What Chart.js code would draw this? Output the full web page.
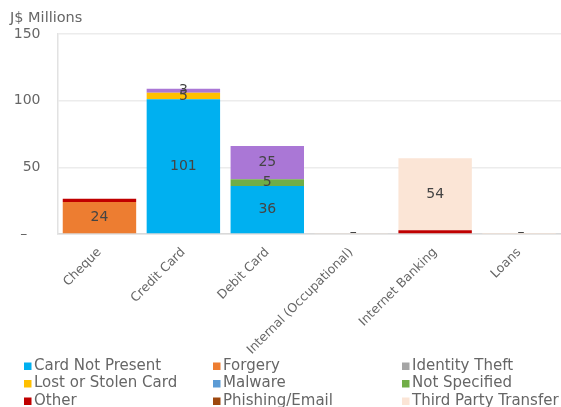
<!DOCTYPE html>
<html>
<head>
<meta charset="utf-8">
<script src="https://cdn.jsdelivr.net/npm/chart.js@4/dist/chart.umd.min.js"></script>
<style>
  html, body { margin: 0; padding: 0; background: #fff; }
  #wrap { width: 561px; height: 407px; position: relative; }
</style>
</head>
<body>
<div id="wrap"><canvas id="c" width="561" height="407"></canvas></div>
<script>
// Fraud losses by channel, J$ millions
const categories = ['Cheque', 'Credit Card', 'Debit Card', 'Internal (Occupational)', 'Internet Banking', 'Loans'];

const cardNotPresent   = [0, 101, 36, 0, 0, 0];
const forgery          = [24, 0, 0, 0, 0, 0];
const identityTheft    = [0, 0, 0, 0, 0, 0];
const lostOrStolenCard = [0, 5, 0, 0, 0, 0];
const malware          = [0, 0, 0, 0, 0.6, 0];
const notSpecified     = [0, 0, 5, 0, 0, 0];
const other            = [2.4, 0, 0, 0, 2.3, 0];
const phishingEmail    = [0, 0, 0, 0, 0, 0];
const thirdParty       = [0, 0, 0, 0.3, 54, 0.2];
const skimming         = [0, 3, 25, 0, 0, 0];

const yTicks = [0, 50, 100, 150];
const yTitle = 'J$ Millions';

const FONT = '"DejaVu Sans", Verdana, sans-serif';
const AXIS_GRAY = '#666666';

const series = [
  { label: 'Card Not Present',    data: cardNotPresent,   color: '#00b0f0', labelled: true,  inLegend: true },
  { label: 'Forgery',             data: forgery,          color: '#ed7d31', labelled: true,  inLegend: true },
  { label: 'Identity Theft',      data: identityTheft,    color: '#a5a5a5', labelled: true,  inLegend: true },
  { label: 'Lost or Stolen Card', data: lostOrStolenCard, color: '#ffc000', labelled: true,  inLegend: true },
  { label: 'Malware',             data: malware,          color: '#5b9bd5', labelled: false, inLegend: true },
  { label: 'Not Specified',       data: notSpecified,     color: '#70ad47', labelled: true,  inLegend: true },
  { label: 'Other',               data: other,            color: '#c00000', labelled: false, inLegend: true },
  { label: 'Phishing/Email',      data: phishingEmail,    color: '#9e480e', labelled: false, inLegend: true },
  { label: 'Third Party Transfer',data: thirdParty,       color: '#fbe5d6', labelled: true,  inLegend: true },
  { label: 'Skimming',            data: skimming,         color: '#aa77d6', labelled: true,  inLegend: false }
];

// value labels centred in each segment
const segmentLabels = {
  id: 'segmentLabels',
  afterDatasetsDraw(chart) {
    const ctx = chart.ctx;
    ctx.save();
    ctx.font = '14px ' + FONT;
    ctx.fillStyle = '#444444';
    ctx.textAlign = 'center';
    ctx.textBaseline = 'middle';
    chart.data.datasets.forEach((ds, i) => {
      if (!ds.labelled) return;
      const meta = chart.getDatasetMeta(i);
      meta.data.forEach((bar, j) => {
        const v = ds.data[j];
        if (!v) return;
        const r = Math.round(v);
        const txt = r === 0 ? '–' : String(r);
        const y = r === 0 ? bar.base - 1 : (bar.y + bar.base) / 2;
        ctx.fillText(txt, bar.x + (r === 0 ? 2 : 0), y);
      });
    });
    ctx.restore();
  }
};

// unit caption above the value axis
const unitCaption = {
  id: 'unitCaption',
  afterDraw(chart) {
    const ctx = chart.ctx;
    ctx.save();
    ctx.font = '14.5px ' + FONT;
    ctx.fillStyle = AXIS_GRAY;
    ctx.textAlign = 'left';
    ctx.textBaseline = 'alphabetic';
    ctx.fillText(yTitle, 10, 22);
    ctx.restore();
  }
};

// three-column legend under the plot
const gridLegend = {
  id: 'gridLegend',
  afterDraw(chart) {
    const ctx = chart.ctx;
    const items = chart.data.datasets.filter(d => d.inLegend);
    const colX = [24, 213, 402];
    const rowY = [366, 383.5, 401];
    ctx.save();
    ctx.font = '15px ' + FONT;
    ctx.textBaseline = 'middle';
    ctx.textAlign = 'left';
    items.forEach((d, k) => {
      const x = colX[k % 3];
      const y = rowY[Math.floor(k / 3)];
      ctx.fillStyle = d.backgroundColor;
      ctx.fillRect(x, y - 3.5, 7.5, 7.5);
      ctx.fillStyle = AXIS_GRAY;
      ctx.fillText(d.label, x + 10, y);
    });
    ctx.restore();
  }
};

new Chart(document.getElementById('c'), {
  type: 'bar',
  data: {
    labels: categories,
    datasets: series.map(s => ({
      label: s.label,
      data: s.data,
      backgroundColor: s.color,
      borderWidth: 0,
      labelled: s.labelled,
      inLegend: s.inLegend,
      barPercentage: 1,
      categoryPercentage: 0.875
    }))
  },
  options: {
    responsive: false,
    animation: false,
    layout: { padding: { left: 0, right: -4, top: 34, bottom: 0 } },
    plugins: {
      legend: { display: false },
      tooltip: { enabled: false }
    },
    scales: {
      x: {
        stacked: true,
        grid: { display: false, drawTicks: false },
        border: { display: true, color: '#d9d9d9', width: 1.5 },
        ticks: {
          color: AXIS_GRAY,
          font: { family: FONT, size: 12.5 },
          minRotation: 45,
          maxRotation: 45,
          padding: 11,
          autoSkip: false
        },
        afterFit(scale) { scale.height = 173; }
      },
      y: {
        stacked: true,
        min: 0,
        max: 150,
        afterBuildTicks(scale) { scale.ticks = yTicks.map(v => ({ value: v })); },
        grid: { color: '#ececec', lineWidth: 1.5, drawTicks: false },
        border: { display: true, color: '#e2e2e2', width: 1.5 },
        ticks: {
          color: AXIS_GRAY,
          font: { family: FONT, size: 14 },
          padding: 17,
          callback: v => v === 0 ? '–   ' : String(v)
        },
        afterFit(scale) { scale.width = 57.5; }
      }
    }
  },
  plugins: [segmentLabels, unitCaption, gridLegend]
});
</script>
</body>
</html>
